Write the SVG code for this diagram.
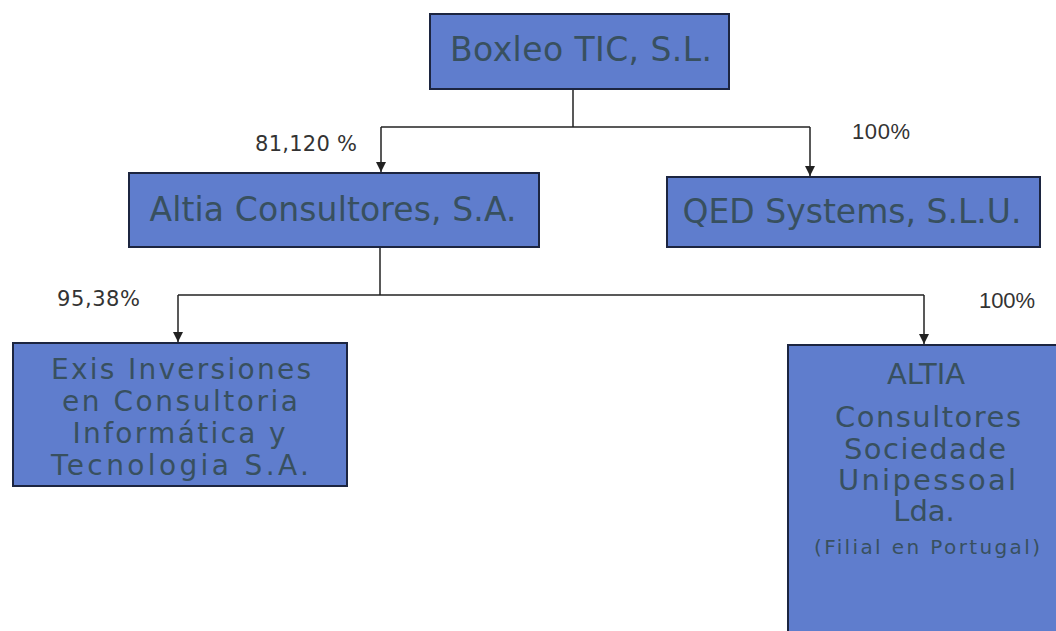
<svg xmlns="http://www.w3.org/2000/svg" width="1056" height="631" viewBox="0 0 1056 631">
<defs>
<style>
.box{fill:#5f7dcd;stroke:#1c2540;stroke-width:2}
.t{font-family:"DejaVu Sans",Verdana,sans-serif;fill:#38505f;text-anchor:middle}
.pct{font-family:"DejaVu Sans",Verdana,sans-serif;fill:#333;font-size:21px}
.pa{font-family:"Liberation Sans",Arial,sans-serif;fill:#333;font-size:22px}
.ln{fill:none;stroke:#222;stroke-width:1.5}
</style>
<marker id="ah" viewBox="0 0 10 10" refX="10" refY="5" markerWidth="10" markerHeight="10" markerUnits="userSpaceOnUse" orient="auto">
<path d="M0,0 L10,5 L0,10 z" fill="#222"/>
</marker>
</defs>
<rect width="1056" height="631" fill="#fff"/>
<g id="connectors">
<path class="ln" d="M573,89 V127"/>
<path class="ln" d="M381,127 H810"/>
<path class="ln" d="M381,127 V172" marker-end="url(#ah)"/>
<path class="ln" d="M810,127 V176" marker-end="url(#ah)"/>
<path class="ln" d="M380,247 V295"/>
<path class="ln" d="M178,295 H924"/>
<path class="ln" d="M178,295 V342" marker-end="url(#ah)"/>
<path class="ln" d="M924,295 V344" marker-end="url(#ah)"/>
</g>
<g id="labels">
<text class="pct" x="255" y="151" textLength="102">81,120 %</text>
<text class="pa" x="852" y="139" textLength="58">100%</text>
<text class="pct" x="57" y="306" textLength="83">95,38%</text>
<text class="pa" x="979" y="308" textLength="56">100%</text>
</g>
<g id="boxleo">
<rect class="box" x="430" y="14" width="299" height="75"/>
<text class="t" x="581" y="61" font-size="33" textLength="262">Boxleo TIC, S.L.</text>
</g>
<g id="altia">
<rect class="box" x="129" y="173" width="410" height="74"/>
<text class="t" x="333" y="221" font-size="33" textLength="367">Altia Consultores, S.A.</text>
</g>
<g id="qed">
<rect class="box" x="667" y="177" width="373" height="70"/>
<text class="t" x="852" y="223" font-size="33" textLength="339">QED Systems, S.L.U.</text>
</g>
<g id="exis">
<rect class="box" x="13" y="343" width="334" height="143"/>
<text class="t" x="181" y="379" font-size="28" textLength="260">Exis Inversiones</text>
<text class="t" x="180" y="411" font-size="28" textLength="236">en Consultoria</text>
<text class="t" x="179" y="443" font-size="28" textLength="213">Informática y</text>
<text class="t" x="180" y="475" font-size="28" textLength="258">Tecnologia S.A.</text>
</g>
<g id="altia-pt">
<rect class="box" x="788" y="345" width="280" height="300"/>
<text class="t" x="926" y="384" font-size="29">ALTIA</text>
<text class="t" x="928" y="427" font-size="29" textLength="186">Consultores</text>
<text class="t" x="925" y="459" font-size="29" textLength="162">Sociedade</text>
<text class="t" x="927" y="490" font-size="29" textLength="178">Unipessoal</text>
<text class="t" x="924" y="521" font-size="29">Lda.</text>
<text class="t" x="927" y="554" font-size="20" textLength="226">(Filial en Portugal)</text>
</g>
</svg>
